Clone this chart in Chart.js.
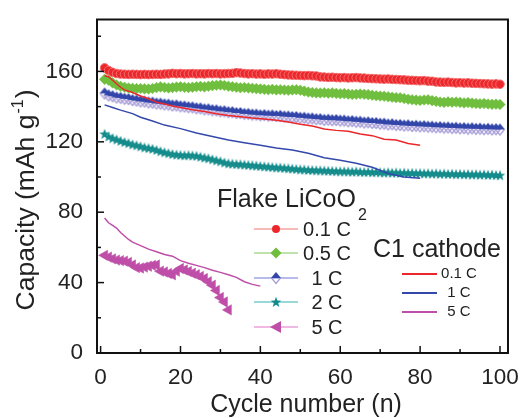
<!DOCTYPE html>
<html>
<head>
<meta charset="utf-8">
<script src="https://cdn.jsdelivr.net/npm/chart.js@4.4.1/dist/chart.umd.min.js"></script>
<style>
  html, body { margin: 0; padding: 0; background: #fff; }
  #wrap { width: 522px; height: 418px; }
</style>
</head>
<body>
<div id="wrap"><canvas id="cap"></canvas></div>
<script>
// ---- data ----
const cycles = Array.from({ length: 100 }, (_, i) => i + 1);

const flake01C = [162.0,160.5,159.5,158.8,158.5,158.4,158.3,158.4,158.3,158.2,
  158.3,158.2,158.3,158.4,158.3,158.5,158.6,158.9,158.7,158.8,
  158.6,158.7,158.8,158.6,158.7,158.6,158.8,158.7,158.8,158.6,
  158.7,158.8,158.9,159.3,159.1,158.8,158.6,158.7,158.5,158.6,
  158.4,158.6,158.5,158.7,158.4,158.2,158.0,157.9,157.8,157.7,
  157.6,157.7,157.5,157.4,156.9,156.8,156.6,156.7,156.5,156.4,
  156.5,156.3,156.4,156.5,156.3,156.2,156.0,155.9,155.8,155.7,
  155.6,155.7,155.5,155.4,155.3,155.2,155.0,154.9,154.8,154.7,
  154.8,154.5,154.4,154.0,153.9,153.8,153.9,153.7,153.5,153.6,
  153.4,153.5,153.3,153.2,153.1,153.0,152.9,152.8,152.9,152.7];

const flake05C = [155.5,155.0,153.5,152.3,151.5,151.0,150.6,150.4,150.2,150.3,
  150.1,150.0,150.3,150.8,151.2,150.9,150.6,150.8,151.1,151.3,
  151.0,150.8,151.0,151.3,151.5,151.2,151.6,151.9,152.1,152.3,
  152.0,151.6,151.3,151.0,150.7,150.9,150.6,150.4,150.2,150.0,
  149.8,149.6,149.8,149.5,149.6,149.4,149.3,149.5,149.6,149.3,
  148.8,148.3,148.0,147.8,147.7,147.9,147.6,147.8,147.5,147.3,
  147.4,147.1,146.9,147.0,147.2,147.0,146.8,146.5,146.2,146.0,
  145.9,145.6,145.3,145.1,145.0,144.6,144.2,143.9,143.7,143.5,
  143.8,143.9,143.4,143.0,142.6,142.4,142.7,142.5,142.6,142.4,
  142.1,142.3,142.0,141.8,141.6,141.8,141.5,141.3,141.4,141.2];

const flake1C = [147.5,146.4,145.9,145.2,145.0,144.5,144.3,143.7,143.5,143.0,
  142.9,142.4,142.3,141.8,141.7,141.3,141.2,140.7,140.7,140.2,
  140.1,139.7,139.6,139.1,139.0,138.5,138.5,138.0,137.9,137.4,
  137.4,136.9,136.9,136.4,136.4,135.9,135.9,135.5,135.5,135.1,
  135.2,134.9,135.0,134.7,134.8,134.4,134.4,134.1,134.1,133.7,
  133.7,133.3,133.3,132.9,132.9,132.5,132.6,132.3,132.4,132.1,
  132.1,131.7,131.8,131.4,131.4,131.0,131.1,130.7,130.7,130.3,
  130.3,129.9,130.0,129.6,129.6,129.3,129.4,129.0,129.1,128.8,
  128.9,128.6,128.6,128.3,128.4,128.1,128.2,127.9,128.0,127.7,
  127.8,127.5,127.7,127.4,127.5,127.2,127.4,127.1,127.2,127.0];

const flake2C = [124.5,123.0,122.0,121.3,120.5,119.8,119.2,118.5,118.0,117.4,
  116.8,116.4,116.0,115.3,114.6,114.0,113.5,113.0,112.7,112.5,
  112.3,112.4,112.2,112.0,111.5,111.0,110.6,110.0,109.4,108.9,
  108.2,107.7,107.5,107.3,107.2,107.0,106.8,106.6,106.4,106.2,
  106.0,105.8,105.6,105.4,105.3,105.1,104.9,104.7,104.5,104.3,
  104.2,104.0,103.9,103.8,103.7,103.6,103.5,103.4,103.3,103.2,
  103.2,103.1,103.0,103.1,102.9,102.8,102.9,102.7,102.8,102.6,
  102.5,102.6,102.4,102.5,102.3,102.4,102.2,102.3,102.1,102.2,
  102.0,102.1,101.9,102.0,101.8,101.9,101.7,101.8,101.6,101.7,
  101.5,101.6,101.4,101.5,101.3,101.4,101.2,101.3,101.1,101.0];

const flake5C = [55.5,54.5,53.5,52.8,52.5,52.2,51.5,50.0,48.5,48.3,
  48.8,49.3,49.8,50.0,46.5,46.0,45.2,44.5,46.5,48.0,
  47.2,46.3,45.3,44.5,43.5,42.3,40.5,38.5,35.5,31.5,
  29.0,24.5];

const c1Cycles01C = [1,2,3,4,5,6,8,10,12,14,16,18,20,23,26,29,32,35,38,41,44,47,50,53,56,59,62,65,68,71,74,77,80];
const c1Val01C = [157.5,157.0,155.0,153.0,151.0,149.5,148.0,146.0,144.5,142.5,141.5,140.3,139.5,138.2,137.2,136.0,135.0,134.2,133.5,133.0,132.3,131.2,130.0,129.0,127.3,126.5,126.0,124.5,123.5,121.5,121.0,119.0,118.0];

const c1Cycles1C = [1,3,5,8,10,13,16,20,24,28,32,36,40,44,48,52,56,60,64,68,72,76,80];
const c1Val1C = [141.0,139.5,138.0,136.0,134.0,131.8,129.5,127.5,125.0,123.0,121.0,119.5,118.0,116.5,115.3,113.5,111.0,109.5,107.8,105.5,102.0,100.0,99.3];

const c1Cycles5C = [1,2,3,4,5,6,7,8,10,12,14,16,18,20,22,24,26,28,30,32,34,36,38,40];
const c1Val5C = [76.7,74.0,72.5,71.0,68.5,66.5,64.5,63.0,61.0,59.0,57.5,56.0,55.0,52.5,51.0,49.8,48.5,47.0,45.8,44.5,43.0,40.5,39.0,38.0];

const xTicks = [0,10,20,30,40,50,60,70,80,90,100];
const yTicks = [0,20,40,60,80,100,120,140,160,180];

const flakeLabels = ['0.1 C', '0.5 C', '1 C', '2 C', '5 C'];
const c1Labels = ['0.1 C', '1 C', '5 C'];

// ---- custom markers ----
function halfDiamond() {
  const c = document.createElement('canvas');
  c.width = 12; c.height = 14;
  const g = c.getContext('2d');
  g.beginPath();
  g.moveTo(1.5, 7); g.lineTo(6, 12.5); g.lineTo(10.5, 7);
  g.strokeStyle = 'rgb(165,155,215)'; g.lineWidth = 1.2; g.stroke();
  g.beginPath();
  g.moveTo(1, 7); g.lineTo(6, 1); g.lineTo(11, 7); g.closePath();
  g.fillStyle = 'rgb(50,70,170)'; g.fill();
  return c;
}
function filledStar() {
  const c = document.createElement('canvas');
  c.width = 12; c.height = 12;
  const g = c.getContext('2d');
  g.beginPath();
  for (let i = 0; i < 10; i++) {
    const r = i % 2 ? 2.3 : 5.6;
    const a = -Math.PI / 2 + i * Math.PI / 5;
    g.lineTo(6 + r * Math.cos(a), 6.4 + r * Math.sin(a));
  }
  g.closePath();
  g.fillStyle = 'rgb(20,140,140)'; g.fill();
  return c;
}
const diamondImg = halfDiamond();
const starImg = filledStar();

const red = 'rgb(236,38,42)', green = 'rgb(112,190,62)', blue = 'rgb(52,72,172)',
      teal = 'rgb(20,140,140)', mag = 'rgb(190,78,168)';
const pale = ['rgb(244,160,160)', 'rgb(170,215,145)', 'rgb(160,165,225)', 'rgb(120,205,205)', 'rgb(232,160,215)'];

function pts(xs, ys) { return ys.map((v, i) => ({ x: xs[i], y: v })); }

const font = '"Liberation Sans", Arial, sans-serif';

// frame, inward ticks, axis titles and the two legend blocks
const decor = {
  id: 'decor',
  afterDraw(chart) {
    const { ctx, chartArea: a, scales: { x, y } } = chart;
    ctx.save();
    ctx.strokeStyle = '#111';
    ctx.lineWidth = 2;
    ctx.strokeRect(a.left, a.top, a.right - a.left, a.bottom - a.top);
    ctx.lineWidth = 1.5;
    xTicks.forEach(v => {
      const px = x.getPixelForValue(v), len = v % 20 === 0 ? 7 : 4;
      ctx.beginPath(); ctx.moveTo(px, a.bottom); ctx.lineTo(px, a.bottom - len); ctx.stroke();
    });
    yTicks.forEach(v => {
      const py = y.getPixelForValue(v), len = v % 40 === 0 ? 7 : 4;
      ctx.beginPath(); ctx.moveTo(a.left, py); ctx.lineTo(a.left + len, py); ctx.stroke();
    });

    ctx.fillStyle = '#222';
    // x title
    ctx.font = '25px ' + font;
    ctx.textAlign = 'center'; ctx.textBaseline = 'alphabetic';
    ctx.fillText('Cycle number (n)', 306, 412);
    // y title
    ctx.save();
    ctx.translate(34, 201);
    ctx.rotate(-Math.PI / 2);
    const main = 'Capacity (mAh g', sup = '-1', tail = ')';
    ctx.font = '26.5px ' + font; const w1 = ctx.measureText(main).width;
    ctx.font = '16px ' + font; const w2 = ctx.measureText(sup).width;
    ctx.font = '26.5px ' + font; const w3 = ctx.measureText(tail).width;
    const sx = -(w1 + w2 + w3) / 2;
    ctx.textAlign = 'left';
    ctx.fillText(main, sx, 0);
    ctx.font = '16px ' + font; ctx.fillText(sup, sx + w1 + 1, -11);
    ctx.font = '26.5px ' + font; ctx.fillText(tail, sx + w1 + w2 + 2, 0);
    ctx.restore();

    // Flake LiCoO2 legend
    ctx.textAlign = 'left';
    ctx.font = '25px ' + font;
    ctx.fillText('Flake LiCoO', 217, 207);
    const fw = ctx.measureText('Flake LiCoO').width;
    ctx.font = '16px ' + font;
    ctx.fillText('2', 217 + fw + 2, 220);
    const rows = [229, 253, 278, 302, 327];
    rows.forEach((ry, i) => {
      ctx.strokeStyle = pale[i]; ctx.lineWidth = 1.5;
      ctx.beginPath(); ctx.moveTo(254, ry); ctx.lineTo(298, ry); ctx.stroke();
      drawMarker(ctx, i, 276, ry);
      ctx.fillStyle = '#222';
      ctx.font = '20px ' + font;
      ctx.textAlign = 'center'; ctx.textBaseline = 'middle';
      ctx.fillText(flakeLabels[i], 327, ry + 1);
      ctx.textAlign = 'left'; ctx.textBaseline = 'alphabetic';
    });

    // C1 cathode legend
    ctx.font = '25px ' + font;
    ctx.fillText('C1 cathode', 373, 257);
    const c1Rows = [274, 293, 312], c1Cols = [red, blue, mag];
    c1Rows.forEach((ry, i) => {
      ctx.strokeStyle = c1Cols[i]; ctx.lineWidth = 2;
      ctx.beginPath(); ctx.moveTo(402, ry); ctx.lineTo(437, ry); ctx.stroke();
      ctx.font = '15px ' + font;
      ctx.textAlign = 'center'; ctx.textBaseline = 'middle';
      ctx.fillText(c1Labels[i], 459, ry);
      ctx.textAlign = 'left'; ctx.textBaseline = 'alphabetic';
    });
    ctx.restore();
  }
};

function drawMarker(ctx, i, cx, cy) {
  ctx.save();
  if (i === 0) {
    ctx.fillStyle = red; ctx.beginPath(); ctx.arc(cx, cy, 4, 0, Math.PI * 2); ctx.fill();
  } else if (i === 1) {
    ctx.fillStyle = green; ctx.beginPath();
    ctx.moveTo(cx, cy - 5.5); ctx.lineTo(cx + 5.5, cy); ctx.lineTo(cx, cy + 5.5); ctx.lineTo(cx - 5.5, cy);
    ctx.closePath(); ctx.fill();
  } else if (i === 2) {
    ctx.drawImage(diamondImg, cx - 6, cy - 7);
  } else if (i === 3) {
    ctx.drawImage(starImg, cx - 6, cy - 6);
  } else {
    ctx.fillStyle = mag; ctx.beginPath();
    ctx.moveTo(cx - 6, cy); ctx.lineTo(cx + 5, cy - 6); ctx.lineTo(cx + 5, cy + 6);
    ctx.closePath(); ctx.fill();
  }
  ctx.restore();
}

const config = {
  type: 'line',
  data: {
    datasets: [
      { label: 'C1 0.1 C', data: pts(c1Cycles01C, c1Val01C), borderColor: red, borderWidth: 1.5, pointRadius: 0, tension: 0 },
      { label: 'C1 1 C', data: pts(c1Cycles1C, c1Val1C), borderColor: blue, borderWidth: 1.5, pointRadius: 0, tension: 0 },
      { label: 'C1 5 C', data: pts(c1Cycles5C, c1Val5C), borderColor: mag, borderWidth: 1.5, pointRadius: 0, tension: 0 },
      { label: 'Flake 0.1 C', data: pts(cycles, flake01C), borderColor: pale[0], borderWidth: 1,
        pointStyle: 'circle', pointRadius: 4.3, pointBackgroundColor: red, pointBorderColor: 'rgb(242,110,110)', pointBorderWidth: 1 },
      { label: 'Flake 0.5 C', data: pts(cycles, flake05C), borderColor: pale[1], borderWidth: 1,
        pointStyle: 'rectRot', pointRadius: 5.3, pointBackgroundColor: green, pointBorderColor: green, pointBorderWidth: 0.5 },
      { label: 'Flake 1 C', data: pts(cycles, flake1C), borderColor: pale[2], borderWidth: 1,
        pointStyle: diamondImg, pointRadius: 6 },
      { label: 'Flake 2 C', data: pts(cycles, flake2C), borderColor: pale[3], borderWidth: 1,
        pointStyle: starImg, pointRadius: 6 },
      { label: 'Flake 5 C', data: pts(cycles.slice(0, flake5C.length), flake5C), borderColor: pale[4], borderWidth: 1,
        pointStyle: 'triangle', pointRotation: -90, pointRadius: 6, pointBackgroundColor: mag, pointBorderColor: mag, pointBorderWidth: 0.5 }
    ]
  },
  options: {
    responsive: true,
    maintainAspectRatio: false,
    animation: false,
    events: [],
    layout: { padding: { top: 12, right: 12, left: 0, bottom: 0 } },
    plugins: { legend: { display: false }, tooltip: { enabled: false } },
    scales: {
      x: {
        type: 'linear', min: -0.9, max: 102,
        grid: { display: false }, border: { display: false },
        afterBuildTicks: s => { s.ticks = xTicks.map(v => ({ value: v })); },
        afterFit: s => { s.height = 65; },
        ticks: {
          padding: 3, color: '#222', font: { family: font, size: 22.5 },
          maxRotation: 0, autoSkip: false,
          callback: v => (v % 20 === 0 ? String(v) : '')
        }
      },
      y: {
        min: 0, max: 189.5,
        grid: { display: false }, border: { display: false },
        afterBuildTicks: s => { s.ticks = yTicks.map(v => ({ value: v })); },
        afterFit: s => { s.width = 97; },
        ticks: {
          padding: 6, color: '#222', font: { family: font, size: 22.5 },
          autoSkip: false,
          callback: v => (v % 40 === 0 ? String(v) : '')
        }
      }
    }
  },
  plugins: [decor]
};

new Chart(document.getElementById('cap'), config);
</script>
</body>
</html>
